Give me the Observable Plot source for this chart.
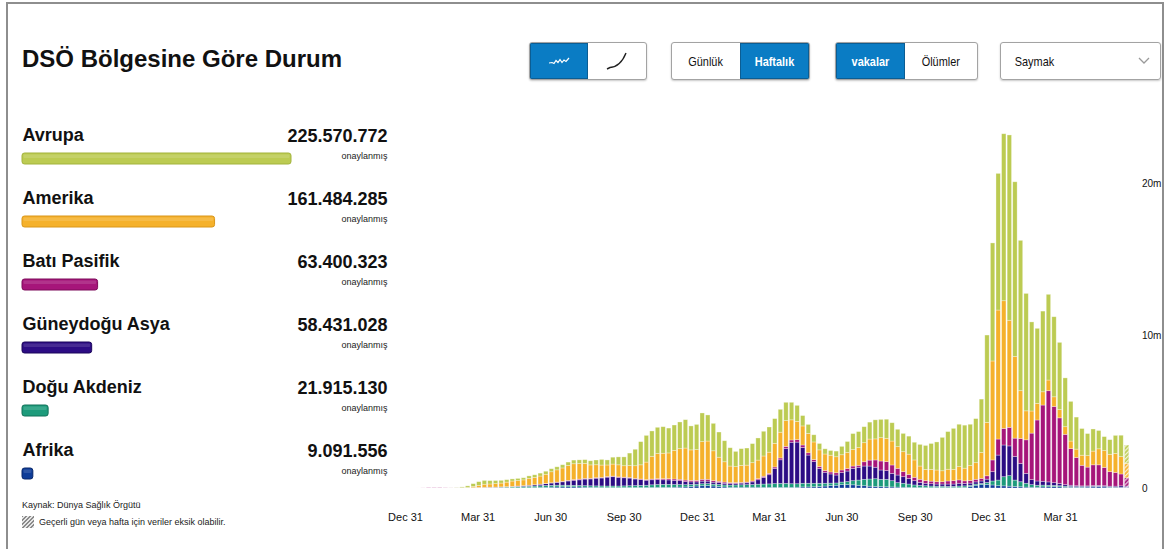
<!DOCTYPE html>
<html lang="tr">
<head>
<meta charset="utf-8">
<script src="https://cdn.jsdelivr.net/npm/d3@7"></script>
<script src="https://cdn.jsdelivr.net/npm/@observablehq/plot@0.6"></script>
<style>
  html, body { margin: 0; padding: 0; background: #fff; }
  body { width: 1170px; height: 549px; position: relative; overflow: hidden;
         font-family: "Liberation Sans", Arial, sans-serif; color: #111; }
  .frame { position: absolute; left: 6px; top: 2px; width: 1158px; height: 600px;
           border: 2px solid #8e8e8e; border-bottom: none; box-sizing: border-box; }
  h1 { position: absolute; left: 22px; top: 47px; margin: 0; font-size: 24px; line-height: 24px;
       font-weight: bold; color: #111; }
  .grp { position: absolute; top: 42px; height: 38px; display: flex; box-sizing: border-box;
         border: 1px solid #a3a3a3; border-radius: 3px; overflow: hidden;
         box-shadow: 0 1px 2px rgba(0,0,0,0.22); background: #fff; }
  .grp > div { display: flex; align-items: center; justify-content: center; height: 100%;
               font-family: "Liberation Sans", Arial, sans-serif;
               font-size: 13px; color: #111; box-sizing: border-box; }
  .grp > div span, .drop span { display: inline-block; transform: scaleX(0.84); }
  .grp > div.on { background: #0a7cc4; color: #fff; font-weight: bold;
                  box-shadow: inset 0 0 0 1px #0b5d93; }
  .drop { position: absolute; left: 1000px; top: 42px; width: 161px; height: 38px; box-sizing: border-box;
          border: 1px solid #a3a3a3; border-radius: 3px; box-shadow: 0 1px 2px rgba(0,0,0,0.22);
          font-family: "Liberation Sans", Arial, sans-serif;
          font-size: 13px; display: flex; align-items: center; padding-left: 10px; }
  .drop svg { position: absolute; right: 10px; top: 14px; }
  #legend { position: absolute; left: 0; top: 110px; }
  #chart { position: absolute; left: 395px; top: 115px; }
  .src { position: absolute; left: 22px; top: 500px; font-size: 9px; color: #222; }
  .note { position: absolute; left: 22px; top: 516px; font-size: 9px; color: #222;
          display: flex; align-items: center; }
  .note span.sw { display: inline-block; width: 12px; height: 12px; margin-right: 5px;
                  background: repeating-linear-gradient(135deg, #8a8a8a 0 1.4px, #e6e6e6 1.4px 2.8px); }
</style>
</head>
<body>
<svg width="0" height="0" style="position:absolute">
  <defs>
    <pattern id="hatch" width="3" height="3" patternUnits="userSpaceOnUse" patternTransform="rotate(45)">
      <rect x="0" y="0" width="1.3" height="3" fill="#ffffff" fill-opacity="0.8"></rect>
    </pattern>
  </defs>
</svg>
<div class="frame"></div>
<h1>DSÖ Bölgesine Göre Durum</h1>

<div class="grp" style="left:529px;width:118px">
  <div class="on" style="width:59px">
    <svg width="22" height="10" viewBox="0 0 22 10"><path d="M1 7 L4 6.5 L6 7.5 L8 4.5 L10 6.5 L12 3.5 L14 6.5 L16 4 L18 5.5 L21 2" fill="none" stroke="#fff" stroke-width="1.2"/></svg>
  </div>
  <div style="width:59px">
    <svg width="26" height="24" viewBox="0 0 26 24"><path d="M3 20 L6 18.5 C12 18, 18 14, 22 4" fill="none" stroke="#222" stroke-width="1.4"/></svg>
  </div>
</div>
<div class="grp" style="left:671px;width:139px">
  <div style="width:69px"><span>Günlük</span></div>
  <div class="on" style="width:70px"><span>Haftalık</span></div>
</div>
<div class="grp" style="left:835px;width:143px">
  <div class="on" style="width:70px"><span>vakalar</span></div>
  <div style="width:73px"><span>Ölümler</span></div>
</div>
<div class="drop"><span>Saymak</span>
  <svg width="12" height="8" viewBox="0 0 12 8"><path d="M1 1 L6 6 L11 1" fill="none" stroke="#9a9a9a" stroke-width="1.3"/></svg>
</div>

<div id="legend"></div>
<div id="chart"></div>

<div class="src">Kaynak: Dünya Sağlık Örgütü</div>
<div class="note"><span class="sw"></span>Geçerli gün veya hafta için veriler eksik olabilir.</div>

<script>
// WHO regions, in legend order (top to bottom)
const regions = ["Avrupa", "Amerika", "Batı Pasifik", "Güneydoğu Asya", "Doğu Akdeniz", "Afrika"];
// cumulative confirmed cases per region
const totals = [225570772, 161484285, 63400323, 58431028, 21915130, 9091556];
const colors = ["#bccb52", "#f5b12b", "#a6157a", "#2c0c84", "#1d9b7b", "#0e3c98"];
const edgeColors = ["#a3b33c", "#d9961a", "#7d0a5a", "#1a045a", "#117058", "#08276a"];
// stacking order of the weekly bars, from the baseline up
const stackOrder = ["Afrika", "Doğu Akdeniz", "Güneydoğu Asya", "Batı Pasifik", "Amerika", "Avrupa"];

// first week shown (weeks start on Sunday)
const firstWeek = "2019-12-29";

// weekly new cases, millions, one value per week
const avrupa = [
  0,0,0,0,0,0.0001,0.0001,0.0002,0.002,0.012,
  0.05,0.1,0.18,0.24,0.25,0.22,0.2,0.18,0.16,0.14,
  0.14,0.14,0.16,0.17,0.19,0.2,0.2,0.2,0.21,0.22,
  0.24,0.24,0.25,0.27,0.31,0.37,0.33,0.45,0.52,0.58,
  0.82,1.08,1.52,1.75,1.66,1.72,1.74,1.63,1.66,1.75,
  1.86,1.57,1.65,1.88,1.71,1.8,1.65,1.38,1.2,1.0,
  1.1,1.12,1.25,1.45,1.62,1.65,1.62,1.5,1.2,1.15,
  1.05,0.68,0.59,0.47,0.42,0.34,0.31,0.37,0.55,0.72,
  1.05,1.05,1.05,1.11,1.25,1.2,1.25,1.2,1.14,1.2,
  1.18,1.16,1.42,1.57,1.7,1.84,2.19,2.47,2.69,2.78,
  2.82,2.71,2.89,3.5,5.73,7.74,8.96,10.95,12.15,11.45,
  9.86,7.7,5.84,4.92,5.29,5.62,5.25,4.4,3.2,2.6,
  2.1,1.75,1.45,1.45,1.2,0.92,0.96,1.18,1.4,1.2
];
const amerika = [
  0,0,0,0,0,0,0,0,0.0001,0.001,
  0.004,0.02,0.08,0.14,0.2,0.21,0.23,0.25,0.3,0.35,
  0.36,0.38,0.45,0.48,0.53,0.6,0.72,0.8,0.88,0.98,
  1.04,1.02,0.98,0.88,0.85,0.81,0.76,0.79,0.79,0.75,
  0.78,0.83,0.93,1.15,1.49,1.65,1.67,1.69,1.88,2.01,
  2.1,2.0,2.02,2.47,2.51,1.96,1.58,1.33,1.09,1.05,
  1.11,1.11,1.2,1.22,1.33,1.39,1.55,1.69,1.69,1.32,
  1.2,1.25,1.27,1.16,1.09,1.09,1.1,1.05,1.0,1.05,
  1.08,1.16,1.25,1.38,1.38,1.53,1.53,1.57,1.42,1.31,
  1.33,1.14,0.87,0.74,0.77,0.77,0.72,0.77,0.74,0.87,
  0.83,0.98,1.09,1.7,3.5,6.49,8.46,8.37,7.02,5.36,
  3.13,1.9,1.45,1.09,0.87,0.7,0.63,0.55,0.5,0.5,
  0.55,0.66,0.75,0.9,1.05,1.1,1.14,1.25,1.14,0.95
];
const batiPasifik = [
  0,0.0001,0.0005,0.004,0.014,0.021,0.03,0.012,0.006,0.006,
  0.006,0.006,0.008,0.01,0.012,0.012,0.008,0.006,0.005,0.005,
  0.005,0.006,0.007,0.008,0.01,0.015,0.02,0.025,0.03,0.04,
  0.045,0.05,0.045,0.04,0.035,0.04,0.04,0.04,0.04,0.04,
  0.04,0.04,0.04,0.04,0.05,0.06,0.07,0.08,0.09,0.09,
  0.1,0.1,0.1,0.12,0.12,0.1,0.09,0.08,0.06,0.05,
  0.05,0.05,0.06,0.07,0.08,0.09,0.1,0.12,0.14,0.15,
  0.16,0.16,0.15,0.13,0.12,0.11,0.13,0.15,0.17,0.17,
  0.15,0.13,0.28,0.39,0.48,0.59,0.59,0.55,0.44,0.33,
  0.26,0.22,0.2,0.17,0.17,0.15,0.15,0.2,0.22,0.22,
  0.17,0.17,0.17,0.17,0.22,0.77,1.05,1.09,1.22,1.2,
  1.64,2.2,3.05,4.0,5.0,5.98,5.0,4.3,3.3,2.4,
  1.85,1.35,1.23,1.36,1.35,1.2,0.95,0.9,0.78,0.55
];
const guneydoguAsya = [
  0,0,0,0,0,0,0,0,0,0,
  0,0.0005,0.001,0.003,0.006,0.01,0.012,0.018,0.022,0.03,
  0.04,0.05,0.065,0.08,0.1,0.12,0.15,0.18,0.22,0.28,
  0.33,0.37,0.43,0.45,0.5,0.52,0.58,0.61,0.56,0.53,
  0.5,0.43,0.38,0.33,0.33,0.32,0.3,0.29,0.27,0.25,
  0.2,0.17,0.15,0.17,0.16,0.13,0.12,0.11,0.1,0.1,
  0.11,0.12,0.17,0.29,0.43,0.6,0.99,1.55,2.29,2.72,
  2.73,2.35,1.85,1.42,0.98,0.72,0.6,0.52,0.62,0.69,
  0.81,0.84,0.87,0.85,0.75,0.61,0.57,0.48,0.5,0.43,
  0.37,0.28,0.2,0.16,0.15,0.14,0.14,0.15,0.15,0.18,
  0.16,0.14,0.14,0.16,0.22,0.61,1.64,2.08,1.95,1.55,
  1.2,0.65,0.33,0.28,0.25,0.22,0.18,0.15,0.1,0.08,
  0.06,0.05,0.05,0.06,0.06,0.06,0.05,0.07,0.1,0.08
];
const doguAkdeniz = [
  0,0,0,0,0,0,0,0,0.0005,0.006,
  0.01,0.012,0.015,0.02,0.025,0.028,0.035,0.042,0.05,0.06,
  0.07,0.078,0.09,0.1,0.11,0.12,0.12,0.12,0.11,0.1,
  0.1,0.1,0.1,0.1,0.1,0.1,0.1,0.1,0.1,0.11,
  0.12,0.13,0.14,0.15,0.17,0.19,0.2,0.2,0.18,0.17,
  0.15,0.13,0.12,0.13,0.13,0.12,0.13,0.13,0.14,0.15,
  0.16,0.17,0.18,0.2,0.22,0.23,0.25,0.26,0.26,0.24,
  0.23,0.24,0.24,0.23,0.21,0.18,0.16,0.15,0.17,0.2,
  0.27,0.34,0.42,0.47,0.51,0.48,0.49,0.41,0.29,0.26,
  0.22,0.17,0.14,0.12,0.1,0.09,0.09,0.08,0.08,0.1,
  0.1,0.08,0.08,0.08,0.13,0.26,0.37,0.6,0.69,0.42,
  0.33,0.25,0.17,0.13,0.12,0.1,0.08,0.07,0.07,0.05,
  0.04,0.04,0.03,0.03,0.03,0.02,0.02,0.02,0.02,0.02
];
const afrika = [
  0,0,0,0,0,0,0,0,0,0,
  0.0001,0.0003,0.001,0.002,0.003,0.004,0.005,0.007,0.009,0.011,
  0.014,0.018,0.022,0.028,0.035,0.045,0.055,0.065,0.075,0.08,
  0.075,0.065,0.055,0.045,0.04,0.035,0.03,0.03,0.03,0.03,
  0.03,0.03,0.03,0.03,0.04,0.04,0.04,0.04,0.05,0.06,
  0.07,0.1,0.13,0.15,0.16,0.13,0.1,0.07,0.05,0.05,
  0.05,0.05,0.05,0.05,0.04,0.04,0.04,0.04,0.04,0.04,
  0.05,0.07,0.07,0.08,0.1,0.13,0.16,0.18,0.22,0.22,
  0.21,0.18,0.15,0.12,0.1,0.09,0.08,0.07,0.06,0.05,
  0.04,0.03,0.03,0.03,0.03,0.03,0.03,0.03,0.03,0.03,
  0.04,0.1,0.18,0.22,0.23,0.2,0.15,0.14,0.12,0.1,
  0.08,0.06,0.05,0.05,0.07,0.08,0.09,0.08,0.05,0.05,
  0.05,0.05,0.06,0.07,0.08,0.07,0.05,0.03,0.02,0.02
];

// x-axis ticks and their labels
const tickDates = ["2019-12-31","2020-03-31","2020-06-30","2020-09-30","2020-12-31",
                   "2021-03-31","2021-06-30","2021-09-30","2021-12-31","2022-03-31"];
const tickLabels = ["Dec 31","Mar 31","Jun 30","Sep 30","Dec 31","Mar 31","Jun 30","Sep 30","Dec 31","Mar 31"];
// y-axis ticks (millions) and their labels
const yTicks = [0, 10, 20];
const yTickLabels = ["0", "10m", "20m"];

const seriesByRegion = {
  "Avrupa": avrupa, "Amerika": amerika, "Batı Pasifik": batiPasifik,
  "Güneydoğu Asya": guneydoguAsya, "Doğu Akdeniz": doguAkdeniz, "Afrika": afrika
};

const DAY = 864e5;
const start = Date.parse(firstWeek + "T00:00:00Z");
const rows = [];
for (const region of stackOrder) {
  seriesByRegion[region].forEach((v, i) => {
    rows.push({week: new Date(start + i * 7 * DAY), region, cases: v, index: i});
  });
}
const lastIndex = avrupa.length - 1;
const lastRows = rows.filter(d => d.index === lastIndex);

const fontFamily = '"Liberation Sans", Arial, sans-serif';

// --- Region summary: names, totals and proportional bars ---
const trFormat = d3.formatLocale({decimal: ",", thousands: ".", grouping: [3], currency: ["", ""]}).format(",d");
const legendRows = regions.map((r, i) => ({region: r, total: totals[i], fill: colors[i], edge: edgeColors[i]}));

const legend = Plot.plot({
  width: 400, height: 380,
  marginLeft: 22, marginRight: 13, marginTop: 0, marginBottom: 0,
  x: {domain: [0, d3.max(totals)], range: [22, 291], axis: null},
  y: {domain: regions, range: [41.5, 370.5], paddingInner: 0.827, paddingOuter: 0, axis: null},
  color: {type: "identity"},
  style: {fontFamily, overflow: "visible", background: "transparent"},
  marks: [
    Plot.barX(legendRows, {x: "total", y: "region", fill: "fill", stroke: "edge", strokeWidth: 1, rx: 2.5}),
    Plot.barX(legendRows, {x: "total", y: "region", fill: "#ffffff", fillOpacity: 0.13,
                           insetTop: 1.5, insetBottom: 6, insetLeft: 1.5, insetRight: 1.5, rx: 1}),
    Plot.text(legendRows, {y: "region", text: "region", frameAnchor: "left", textAnchor: "start",
                           dy: -24, fontSize: 18, fontWeight: "bold", fill: "#111"}),
    Plot.text(legendRows, {y: "region", text: d => trFormat(d.total), frameAnchor: "right", textAnchor: "end",
                           dy: -23, fontSize: 18, fontWeight: "bold", fill: "#111"}),
    Plot.text(legendRows, {y: "region", text: () => "onaylanmış", frameAnchor: "right", textAnchor: "end",
                           dy: -3, fontSize: 9, fill: "#222"})
  ]
});
document.getElementById("legend").append(legend);

// --- Weekly stacked bars ---
const tickDateValues = tickDates.map(s => new Date(s + "T00:00:00Z"));
const xLabel = d => {
  const k = tickDateValues.findIndex(t => +t === +d);
  return k < 0 ? "" : tickLabels[k];
};
const yLabel = d => {
  const k = yTicks.indexOf(d);
  return k < 0 ? "" : yTickLabels[k];
};

const chart = Plot.plot({
  width: 775, height: 420,
  marginLeft: 10, marginRight: 36.6, marginTop: 7, marginBottom: 47,
  x: {type: "utc", domain: [new Date("2019-12-31T00:00:00Z"), new Date("2022-07-01T00:00:00Z")]},
  y: {domain: [0, 24]},
  color: {domain: regions, range: colors},
  style: {fontFamily, color: "#111", overflow: "visible", background: "transparent"},
  marks: [
    Plot.rectY(rows, {x: "week", interval: d3.utcWeek, y: "cases", fill: "region", order: stackOrder,
                      insetLeft: 0.6, insetRight: 0.6, stroke: "#ffffff", strokeOpacity: 0.45, strokeWidth: 0.7}),
    Plot.rectY(lastRows, {x: "week", interval: d3.utcWeek, y: "cases", z: "region", order: stackOrder,
                          fill: "url(#hatch)", insetLeft: 0.6, insetRight: 0.6}),
    Plot.axisX({ticks: tickDateValues, tickFormat: xLabel, tickSize: 0, tickPadding: 25,
                fontSize: 11, label: null}),
    Plot.axisY({anchor: "right", ticks: yTicks, tickFormat: yLabel, tickSize: 0, tickPadding: 8,
                fontSize: 10, label: null})
  ]
});
document.getElementById("chart").append(chart);
</script>
</body>
</html>
